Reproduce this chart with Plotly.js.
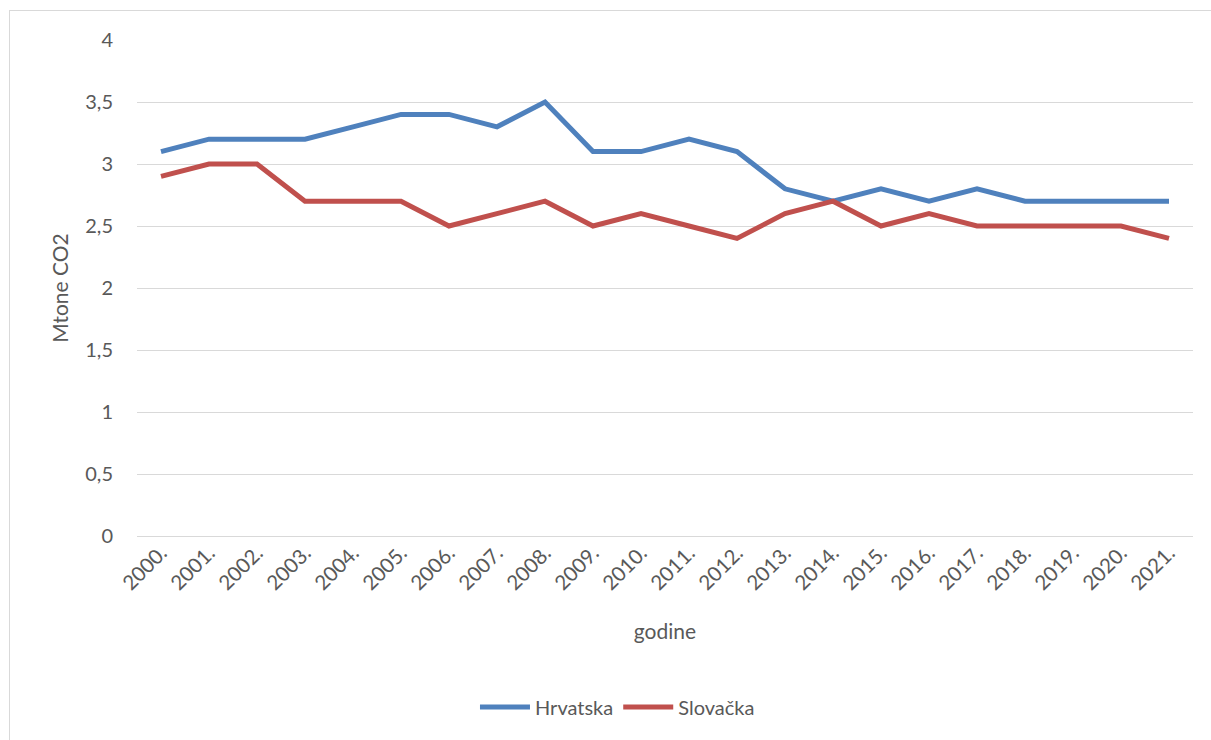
<!DOCTYPE html>
<html>
<head>
<meta charset="utf-8">
<script src="https://cdn.plot.ly/plotly-3.0.1.min.js"></script>
<style>
html,body{margin:0;padding:0;background:#fff;}
#wrap{position:relative;width:1211px;height:740px;overflow:hidden;}
#chart{width:1211px;height:740px;}
#frame{position:absolute;left:9px;top:10px;width:1210px;height:740px;border:1.5px solid #d9d9d9;pointer-events:none;}
</style>
</head>
<body>
<div id="wrap"><div id="chart"></div><div id="frame"></div></div>
<script>
const years = ["2000.","2001.","2002.","2003.","2004.","2005.","2006.","2007.","2008.","2009.","2010.","2011.","2012.","2013.","2014.","2015.","2016.","2017.","2018.","2019.","2020.","2021."];
const hrvatska = [3.1,3.2,3.2,3.2,3.3,3.4,3.4,3.3,3.5,3.1,3.1,3.2,3.1,2.8,2.7,2.8,2.7,2.8,2.7,2.7,2.7,2.7];
const slovacka = [2.9,3.0,3.0,2.7,2.7,2.7,2.5,2.6,2.7,2.5,2.6,2.5,2.4,2.6,2.7,2.5,2.6,2.5,2.5,2.5,2.5,2.4];
const yTicks = [0,0.5,1,1.5,2,2.5,3,3.5,4];
const yTickText = ["0","0,5","1","1,5","2","2,5","3","3,5","4"];

const font = "Lato, 'Open Sans', sans-serif";
const traces = [
  {x: years, y: hrvatska, name: "Hrvatska", type: "scatter", mode: "lines",
   line: {color: "#4f81bd", width: 5}},
  {x: years, y: slovacka, name: "Slovačka", type: "scatter", mode: "lines",
   line: {color: "#c0504d", width: 5}}
];
const layout = {
  width: 1211, height: 740,
  margin: {l: 137, r: 18, t: 40, b: 204},
  paper_bgcolor: "#fff", plot_bgcolor: "#fff",
  font: {family: font, color: "#595959", size: 20},
  showlegend: true,
  legend: {orientation: "h", x: 0.455, xanchor: "center", y: -0.345, yanchor: "middle",
           font: {size: 20, color: "#595959"}, itemwidth: 50, traceorder: "normal"},
  xaxis: {type: "category", range: [-0.5, 21.5], tickangle: -45, showgrid: false,
          showline: false, ticks: "", tickfont: {size: 20.5, color: "#595959"},
          title: {text: "godine", font: {size: 21, color: "#595959"}, standoff: 30}},
  yaxis: {range: [0, 4], tickvals: yTicks, ticktext: yTickText, showgrid: true,
          gridcolor: "#d9d9d9", gridwidth: 1, zeroline: true, zerolinecolor: "#d9d9d9", zerolinewidth: 1,
          showline: false, ticks: "", ticklabelstandoff: 23, tickfont: {size: 20, color: "#595959"},
          title: {text: "Mtone CO2", font: {size: 21, color: "#595959"}, standoff: 10}}
};
Plotly.newPlot("chart", traces, layout, {displayModeBar: false, staticPlot: true});
</script>
</body>
</html>
